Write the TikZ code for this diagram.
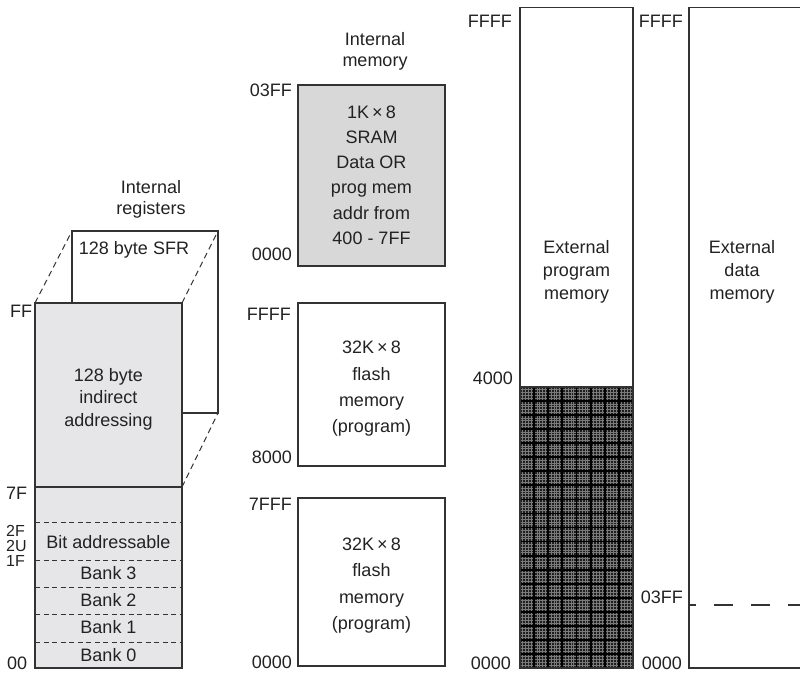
\documentclass[tikz,border=0pt]{standalone}
\usepackage{fontspec}
\setmainfont{Liberation Sans}
\definecolor{ln}{HTML}{333333}
\definecolor{txt}{HTML}{222222}
\definecolor{regfill}{HTML}{E6E6E8}
\definecolor{sramfill}{HTML}{D8D8D8}
\definecolor{darkfill}{HTML}{1E1E1E}
\definecolor{fineln}{HTML}{7A7A7A}
\begin{document}
\begin{tikzpicture}[x=1pt,y=-1pt,
  box/.style={draw=ln,line width=1.3pt},
  lbl/.style={inner sep=0pt,text=txt,font=\fontsize{18}{18}\selectfont},
  addr/.style={lbl,anchor=east},
  addrw/.style={lbl,anchor=west},
  addrs/.style={addrw,font=\fontsize{16}{16}\selectfont},
  mtxt/.style={lbl,align=center},
  dsh/.style={draw=ln,line width=1pt,dash pattern=on 6pt off 4pt},
  ddiv/.style={draw=ln,line width=0.9pt,dash pattern=on 5pt off 3.5pt},
  ldash/.style={draw=ln,line width=1.1pt,dash pattern=on 19pt off 18pt,dash phase=12pt}
  ]
\useasboundingbox (0,0) rectangle (800,672);

% ---------------- internal registers ----------------
\coordinate (bTL) at (72,231);
\coordinate (bTR) at (218,231);
\coordinate (bBR) at (218,413);
\coordinate (bBL) at (182,413);
\coordinate (bHL) at (72,303);
\coordinate (fTL) at (35,303);
\coordinate (fTR) at (182,303);
\coordinate (fBR) at (182,668);
\coordinate (fML) at (35,487);
\coordinate (fMR) at (182,487);
\draw[box] (bHL) -- (bTL) -- (bTR) -- (bBR) -- (bBL);
\draw[dsh] (fTL) -- (bTL);
\draw[dsh] (fTR) -- (bTR);
\draw[dsh] (fMR) -- (bBR);
\filldraw[box,fill=regfill] (fTL) rectangle (fBR);
\draw[box] (fML) -- (fMR);
\foreach \yy/\nm in {522/dA,560/dB,587/dC,614/dD,642/dE}{
  \coordinate (\nm l) at (35,\yy);
  \coordinate (\nm r) at (182,\yy);
  \draw[ddiv] (\nm l) -- (\nm r);
}

\node[mtxt,font=\fontsize{18}{21}\selectfont] (regtitle) at (151,199.3) {Internal\\registers};
\node[lbl] (sfr) at (134,250) {128 byte SFR};
\node[mtxt,font=\fontsize{18}{22.5}\selectfont] (indir) at (108.5,399.3) {128 byte\\indirect\\addressing};
\node[lbl] (bitad) at (108.5,542) {Bit addressable};
\node[lbl] (bank3) at (108.5,573) {Bank 3};
\node[lbl] (bank2) at (108.5,600) {Bank 2};
\node[lbl] (bank1) at (108.5,627) {Bank 1};
\node[lbl] (bank0) at (108.5,655) {Bank 0};

\node[addrw] (aFF) at (10,311) {FF};
\node[addrw] (a7F) at (6,493) {7F};
\node[addrs] (a2F) at (6,530.5) {2F};
\node[addrs] (a2U) at (6,546) {2U};
\node[addrs] (a1F) at (6,561) {1F};
\node[addrw] (a00) at (7,663) {00};

% ---------------- internal memory ----------------
\filldraw[box,fill=sramfill] (298,85) rectangle (445,266);
\draw[box] (298,303) rectangle (445,466);
\draw[box] (298,498) rectangle (445,666);

\node[mtxt,font=\fontsize{18}{21}\selectfont] (memtitle) at (375,51.3) {Internal\\memory};
\node[mtxt,font=\fontsize{18}{25.3}\selectfont] (sram) at (371.5,175.1)
  {1K\,×\,8\\SRAM\\Data OR\\prog mem\\addr from\\400 - 7FF};
\node[mtxt,font=\fontsize{18}{26.3}\selectfont] (flashA) at (371.5,388.9)
  {32K\,×\,8\\flash\\memory\\(program)};
\node[mtxt,font=\fontsize{18}{26.3}\selectfont] (flashB) at (371.5,585.5)
  {32K\,×\,8\\flash\\memory\\(program)};

\node[addr] (m03FF) at (292,90) {03FF};
\node[addr] (m0000a) at (292,254) {0000};
\node[addr] (mFFFF) at (291,314) {FFFF};
\node[addr] (m8000) at (292,457) {8000};
\node[addr] (m7FFF) at (292,504) {7FFF};
\node[addr] (m0000b) at (292,662) {0000};

% ---------------- external program memory ----------------
\begin{scope}
  \clip (520,387) rectangle (633,668);
  \fill[darkfill] (520,387) rectangle (633,668);
  \foreach \i in {0,...,40}
    \draw[fineln,line width=0.7pt] ({520+\i*2.825},387) -- ({520+\i*2.825},668);
  \foreach \i in {0,...,100}
    \draw[fineln,line width=0.7pt] (520,{387+\i*2.81}) -- (633,{387+\i*2.81});
  \foreach \i in {0,...,8}
    \draw[black,line width=1.8pt] ({520+\i*14.125},387) -- ({520+\i*14.125},668);
  \foreach \i in {0,...,20}
    \draw[black,line width=1.8pt] (520,{387+\i*14.05}) -- (633,{387+\i*14.05});
\end{scope}
\draw[box] (520,7.5) rectangle (633,668);
\draw[box] (520,387) -- (633,387);

\node[mtxt,font=\fontsize{18}{23}\selectfont] (extprog) at (576.5,271.8)
  {External\\program\\memory};
\node[addr] (pFFFF) at (512,21) {FFFF};
\node[addr] (p4000) at (513,378) {4000};
\node[addr] (p0000) at (511,663) {0000};

% ---------------- external data memory ----------------
\coordinate (dTR) at (801,7.5);
\coordinate (dTL) at (689,7.5);
\coordinate (dBL) at (689,668);
\coordinate (dBR) at (801,668);
\draw[box] (dTR) -- (dTL) -- (dBL) -- (dBR);
\coordinate (dsL) at (689,605);
\coordinate (dsR) at (801,605);
\draw[ldash] (dsL) -- (dsR);

\node[mtxt,font=\fontsize{18}{23}\selectfont] (extdata) at (742,271.8)
  {External\\data\\memory};
\node[addr] (dFFFF) at (683,21) {FFFF};
\node[addr] (d03FF) at (683,597) {03FF};
\node[addr] (d0000) at (682,663) {0000};
\end{tikzpicture}
\end{document}
